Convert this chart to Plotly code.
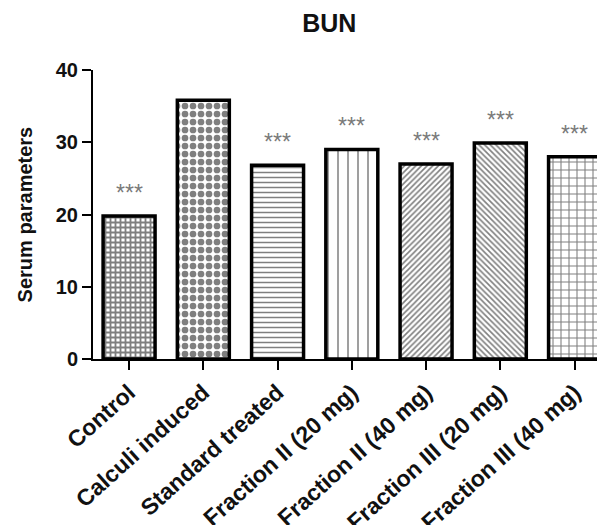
import plotly.graph_objects as go

categories = ["Control", "Calculi induced", "Standard treated", "Fraction II (20 mg)",
              "Fraction II (40 mg)", "Fraction III (20 mg)", "Fraction III (40 mg)"]
bun_values = [19.8, 35.8, 26.8, 29.0, 27.0, 29.9, 28.0]
significance = ["***", "", "***", "***", "***", "***", "***"]
y_ticks = [0, 10, 20, 30, 40]

pattern_shapes = ["+", ".", "-", "|", "/", "\\", "+"]
pattern_sizes = [5, 8, 5, 10, 4, 4, 8]
pattern_solid = [0.6, 0.55, 0.3, 0.15, 0.4, 0.4, 0.25]

FONT = "Liberation Sans, Arial, sans-serif"

fig = go.Figure()
fig.add_trace(go.Bar(
    x=categories, y=bun_values, width=0.7,
    marker=dict(
        color="white",
        line=dict(color="black", width=3.5),
        pattern=dict(shape=pattern_shapes, size=pattern_sizes, solidity=pattern_solid,
                     fgcolor="black", bgcolor="white", fillmode="overlay"),
    ),
    showlegend=False,
))

for c, v, s in zip(categories, bun_values, significance):
    if s:
        fig.add_annotation(x=c, y=v, text=s, showarrow=False, yanchor="bottom", yshift=8,
                           font=dict(family=FONT, size=23, color="#7a7a7a"))

fig.add_annotation(x=-0.133, y=0.5, xref="paper", yref="paper", text="Serum parameters",
                   textangle=-90, showarrow=False, xanchor="center", yanchor="middle",
                   font=dict(family=FONT, size=20, color="#111", weight="bold"))

fig.update_layout(
    width=605, height=525,
    margin=dict(l=85, r=8, t=62, b=174, autoexpand=False),
    paper_bgcolor="white", plot_bgcolor="white",
    title=dict(text="BUN", x=0.531, xanchor="center", y=0.971, yanchor="middle",
               font=dict(family=FONT, size=25, color="#111", weight="bold")),
    bargap=0.3,
)
fig.update_xaxes(range=[-0.486, 6.41], showline=True, linecolor="black", linewidth=2,
                 ticks="outside", ticklen=9, tickwidth=2, tickcolor="black",
                 tickangle=-42, showgrid=False, zeroline=False, automargin=False,
                 tickfont=dict(family=FONT, size=23, color="#111", weight="bold"))
fig.update_yaxes(range=[0, 40], tickvals=y_ticks, showline=True, linecolor="black", linewidth=2,
                 ticks="outside", ticklen=9, tickwidth=2, tickcolor="black",
                 showgrid=False, zeroline=False, automargin=False,
                 tickfont=dict(family=FONT, size=20, color="#111", weight="bold"))

fig.write_html("out.html")
